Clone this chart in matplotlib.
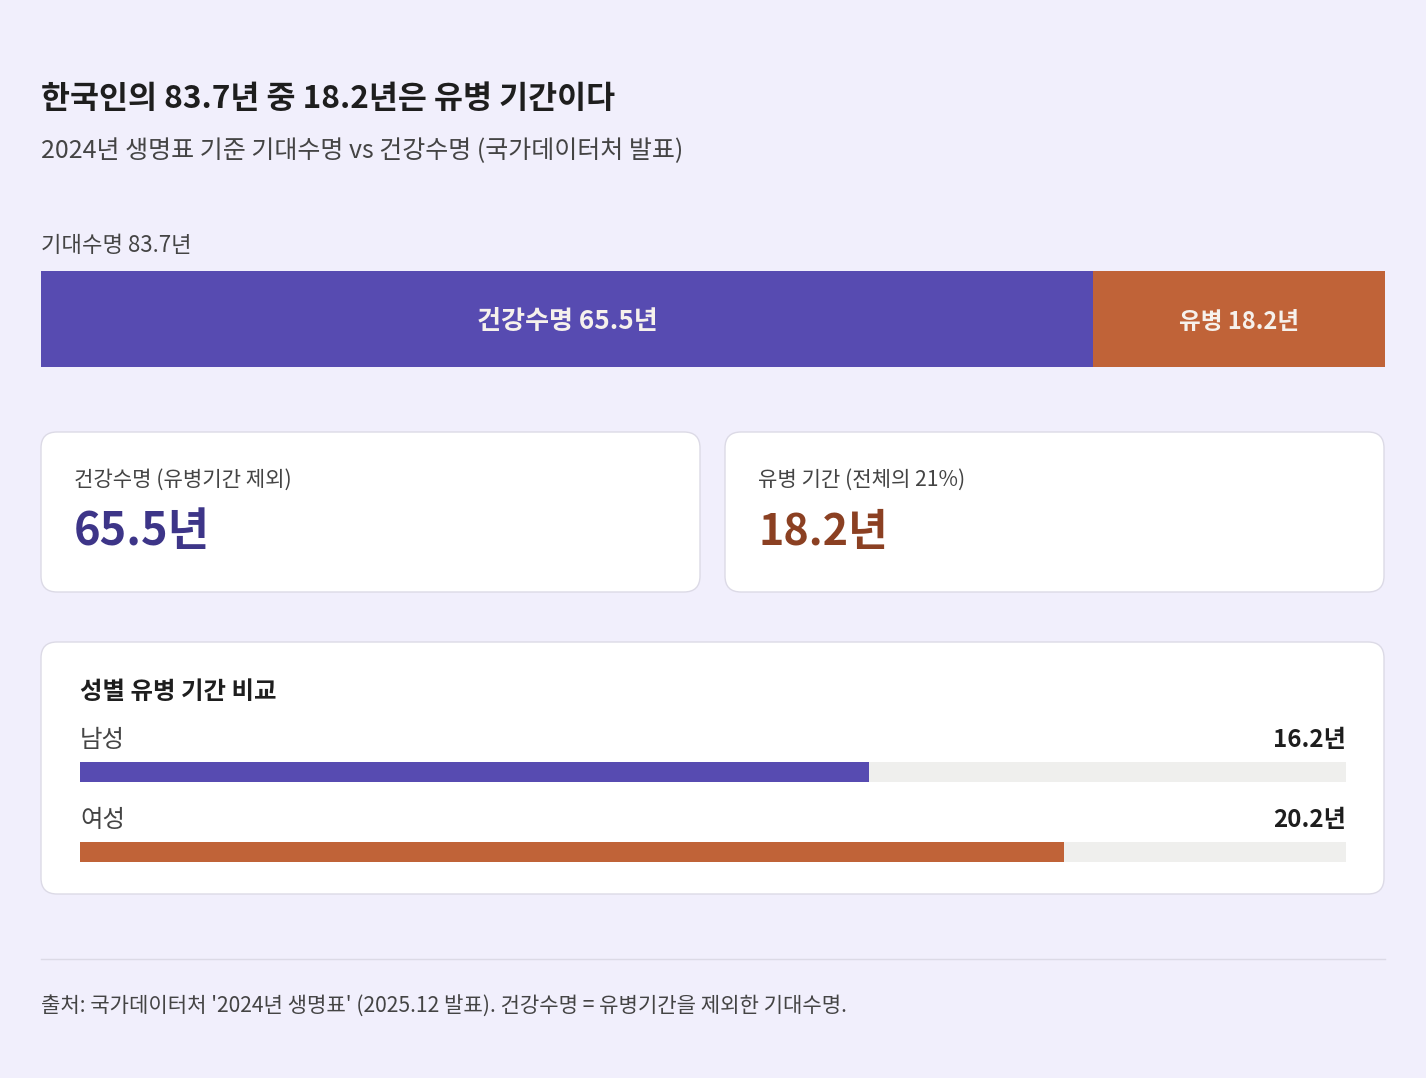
import matplotlib
matplotlib.use("Agg")
import matplotlib.pyplot as plt
from matplotlib.patches import FancyBboxPatch

plt.rcParams["font.family"] = ["Noto Sans CJK KR", "DejaVu Sans"]

# data
life_expectancy = 83.7
segment_labels = ["건강수명", "유병"]
segment_values = [65.5, 18.2]
sick_share = 21

gender_labels = ["남성", "여성"]
gender_values = [16.2, 20.2]
gender_scale_max = 26.0

title = "한국인의 83.7년 중 18.2년은 유병 기간이다"
subtitle = "2024년 생명표 기준 기대수명 vs 건강수명 (국가데이터처 발표)"
footnote = "출처: 국가데이터처 '2024년 생명표' (2025.12 발표). 건강수명 = 유병기간을 제외한 기대수명."

W, H = 1426, 1078
BG = "#F1EFFC"
PURPLE = "#574BB1"
ORANGE = "#C06338"
TRACK = "#EFEFED"
DARK = "#1E1E1E"
GREY = "#444444"

fig = plt.figure(figsize=(W / 100, H / 100), dpi=100)
fig.patch.set_facecolor(BG)

# full-figure axes in pixel coordinates for text and cards
bg = fig.add_axes([0, 0, 1, 1])
bg.set_xlim(0, W)
bg.set_ylim(H, 0)
bg.axis("off")
bg.set_facecolor(BG)


def px_axes(x0, y0, x1, y1):
    ax = fig.add_axes([x0 / W, 1 - y1 / H, (x1 - x0) / W, (y1 - y0) / H])
    ax.axis("off")
    return ax


def card(x0, y0, x1, y1):
    bg.add_patch(FancyBboxPatch((x0, y0), x1 - x0, y1 - y0,
                                boxstyle="round,pad=0,rounding_size=16",
                                facecolor="white", edgecolor="#DCDAE6", linewidth=1))


bg.text(41, 99, title, fontsize=22.7, fontweight="bold", color=DARK, va="center")
bg.text(41, 151, subtitle, fontsize=18, color=GREY, va="center")
bg.text(41, 246, f"기대수명 {life_expectancy}년", fontsize=16, fontweight="medium",
        color=GREY, va="center")

# stacked bar
sb = px_axes(41, 271, 1385, 367)
sb.set_xlim(0, life_expectancy)
sb.set_ylim(-0.5, 0.5)
left = 0
for lab, val, col, fs in zip(segment_labels, segment_values, [PURPLE, ORANGE], [18.8, 17]):
    sb.barh(0, val, left=left, height=1.0, color=col, edgecolor="none")
    sb.text(left + val / 2, -0.03, f"{lab} {val}년", ha="center", va="center",
            fontsize=fs, fontweight="bold", color="#F6F1EC")
    left += val

# cards
card(41, 432, 700, 592)
card(725, 432, 1384, 592)
bg.text(74, 480, f"{segment_labels[0]} (유병기간 제외)",
        fontsize=15.2, color=GREY, va="center")
bg.text(74, 532, f"{segment_values[0]}년", fontsize=32.5, fontweight="bold",
        color="#3D3588", va="center")
bg.text(758, 480, f"유병 기간 (전체의 {sick_share}%)", fontsize=15.2, color=GREY, va="center")
bg.text(758, 532, f"{segment_values[1]}년", fontsize=31, fontweight="bold",
        color="#8B4022", va="center")

# gender card
card(41, 642, 1384, 894)
bg.text(80, 692, "성별 유병 기간 비교", fontsize=17.6, fontweight="bold", color=DARK, va="center")

gb = px_axes(80, 762, 1346, 862)
gb.set_xlim(0, gender_scale_max)
gb.set_ylim(1.125, -0.125)
for i, (lab, val, col) in enumerate(zip(gender_labels, gender_values, [PURPLE, ORANGE])):
    gb.barh(i, gender_scale_max, height=0.25, color=TRACK, edgecolor="none")
    gb.barh(i, val, height=0.25, color=col, edgecolor="none")
    bg.text(80, 740 + 80 * i, lab, fontsize=17.6, color=GREY, va="center")
    bg.text(1346, 740 + 80 * i, f"{val}년", fontsize=17.4, fontweight="bold",
            color=DARK, va="center", ha="right")

# footer
bg.plot([41, 1385], [959, 959], color="#DCDAE6", linewidth=1)
bg.text(41, 1007, footnote, fontsize=15.2, color=GREY, va="center")

fig.savefig("out.png", dpi=100, facecolor=BG)
